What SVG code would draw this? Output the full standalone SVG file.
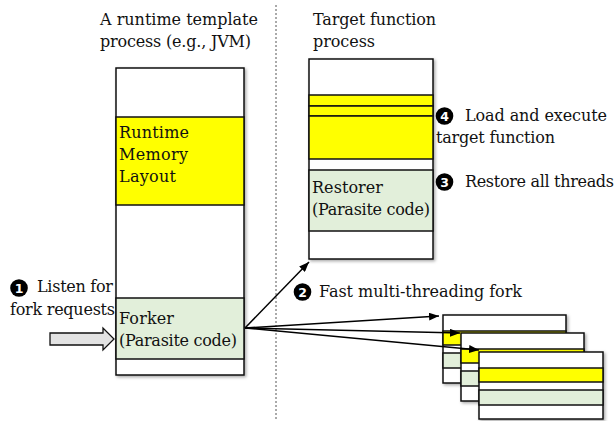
<svg xmlns="http://www.w3.org/2000/svg" width="616" height="421" viewBox="0 0 616 421">
<defs>
<filter id="sh" x="-10%" y="-10%" width="130%" height="130%">
<feDropShadow dx="1.5" dy="1.5" stdDeviation="1.5" flood-color="#000" flood-opacity="0.35"/>
</filter>
<marker id="ah" markerWidth="10" markerHeight="8" refX="10" refY="4" orient="auto" markerUnits="userSpaceOnUse">
<path d="M0,0 L10,4 L0,8 z" fill="#000"/>
</marker>
</defs>
<style>
.box{stroke:#111;stroke-width:1.5}
.w{fill:#fff}
.y{fill:#ffff00}
.g{fill:#e2efda}
.conn{stroke:#000;stroke-width:1.5;fill:none}
.num{fill:#000}
</style>

<line x1="276" y1="5" x2="276" y2="420" stroke="#555" stroke-width="1" stroke-dasharray="2,2"/>

<g id="template-process">
<rect x="116" y="68" width="128" height="307" class="box w" filter="url(#sh)"/>
<rect x="116" y="117" width="128" height="88" class="box y"/>
<rect x="116" y="298" width="128" height="61" class="box g"/>
</g>

<g id="target-process">
<rect x="309" y="59" width="124" height="200" class="box w" filter="url(#sh)"/>
<rect x="309" y="95" width="124" height="11" class="box y"/>
<rect x="309" y="106" width="124" height="10" class="box y"/>
<rect x="309" y="116" width="124" height="43" class="box y"/>
<rect x="309" y="170" width="124" height="61" class="box g"/>
</g>

<g id="copy1">
<rect x="443" y="315" width="123" height="68" class="box w" filter="url(#sh)"/>
<rect x="443" y="331" width="123" height="14" class="box y"/>
<rect x="443" y="353" width="123" height="15" class="box g"/>
</g>
<g id="copy2">
<rect x="461" y="333" width="123" height="68" class="box w" filter="url(#sh)"/>
<rect x="461" y="349" width="123" height="14" class="box y"/>
<rect x="461" y="371" width="123" height="15" class="box g"/>
</g>
<g id="copy3">
<rect x="479" y="352" width="124" height="67" class="box w" filter="url(#sh)"/>
<rect x="479" y="368" width="124" height="14" class="box y"/>
<rect x="479" y="390" width="124" height="15" class="box g"/>
</g>

<g id="connectors">
<line x1="245" y1="328" x2="309" y2="262" class="conn" marker-end="url(#ah)"/>
<line x1="245" y1="328" x2="439" y2="316" class="conn" marker-end="url(#ah)"/>
<line x1="245" y1="328" x2="460" y2="333" class="conn" marker-end="url(#ah)"/>
<line x1="245" y1="328" x2="479" y2="350" class="conn" marker-end="url(#ah)"/>
<path d="M50,333 L103,333 L103,328 L114,339 L103,350 L103,345 L50,345 z" fill="#e3e3e3" stroke="#111" stroke-width="1.3"/>
</g>

<g id="circles">
<circle cx="19" cy="288" r="8.8" class="num"/>
<circle cx="302.5" cy="292" r="8.8" class="num"/>
<circle cx="444.5" cy="182" r="8.8" class="num"/>
<circle cx="444.5" cy="116" r="8.8" class="num"/>
</g>

<g id="texts" font-family="'DejaVu Serif', 'Liberation Serif', serif" font-size="16" fill="#111">
<text x="100" y="25" textLength="158">A runtime template</text>
<text x="100" y="47" textLength="151">process (e.g., JVM)</text>
<text x="313" y="25" textLength="123">Target function</text>
<text x="313" y="47" textLength="62">process</text>
<text x="119" y="138" textLength="70">Runtime</text>
<text x="119" y="160" textLength="69">Memory</text>
<text x="119" y="182" textLength="57">Layout</text>
<text x="119" y="324" textLength="55">Forker</text>
<text x="119" y="346" textLength="118">(Parasite code)</text>
<text x="312" y="193" textLength="71">Restorer</text>
<text x="312" y="215" textLength="118">(Parasite code)</text>
<text x="37" y="292" textLength="76">Listen for</text>
<text x="10" y="315" textLength="105">fork requests</text>
<text x="319" y="297" textLength="203">Fast multi-threading fork</text>
<text x="465" y="187" textLength="149">Restore all threads</text>
<text x="465" y="121" textLength="142">Load and execute</text>
<text x="436" y="143" textLength="119">target function</text>
</g>
<g id="numbers" font-family="'DejaVu Sans', sans-serif" font-size="12.5" font-weight="bold" fill="#fff" text-anchor="middle">
<text x="19" y="292.5">1</text>
<text x="302.5" y="296.5">2</text>
<text x="444.5" y="186.5">3</text>
<text x="444.5" y="120.5">4</text>
</g>
</svg>
